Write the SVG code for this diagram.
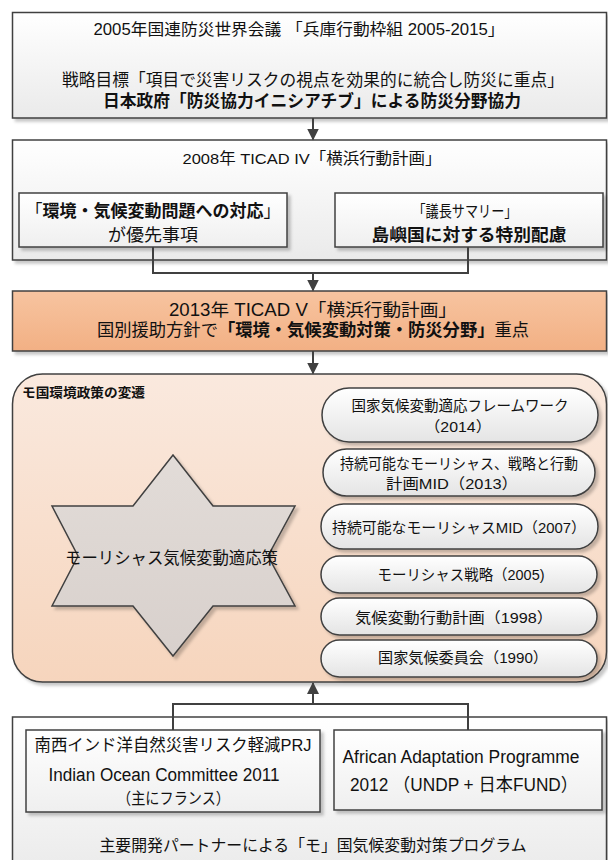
<svg xmlns="http://www.w3.org/2000/svg" width="608" height="860" viewBox="0 0 608 860">
<defs>
<linearGradient id="gBox" x1="0" y1="0" x2="0" y2="1"><stop offset="0" stop-color="#FFFFFF"/><stop offset="1" stop-color="#EAEAEA"/></linearGradient>
<linearGradient id="gSub" x1="0" y1="0" x2="0" y2="1"><stop offset="0" stop-color="#FFFFFF"/><stop offset="1" stop-color="#EFEFEF"/></linearGradient>
<linearGradient id="gOrange" x1="0" y1="0" x2="0" y2="1"><stop offset="0" stop-color="#F7C4A0"/><stop offset="1" stop-color="#F2B084"/></linearGradient>
<linearGradient id="gCont" x1="0" y1="0" x2="0" y2="1"><stop offset="0" stop-color="#FAE9DE"/><stop offset="1" stop-color="#F6D5BD"/></linearGradient>
<linearGradient id="gPill" x1="0" y1="0" x2="0" y2="1"><stop offset="0" stop-color="#FFFFFF"/><stop offset="1" stop-color="#E4E4E4"/></linearGradient>
<linearGradient id="gStar" x1="0" y1="0" x2="0" y2="1"><stop offset="0" stop-color="#E2DCD8"/><stop offset="1" stop-color="#D8D0CC"/></linearGradient>
<filter id="sh" x="-10%" y="-10%" width="125%" height="130%"><feDropShadow dx="3" dy="3" stdDeviation="1.8" flood-color="#000" flood-opacity="0.22"/></filter>
<marker id="ah" viewBox="0 0 12 12" markerWidth="12" markerHeight="12" refX="11" refY="6" orient="auto" markerUnits="userSpaceOnUse"><path d="M0,0 L12,6 L0,12 z" fill="#404040"/></marker>
</defs>
<style>
.bx{stroke:#404040;stroke-width:1.5}
.t{font-family:'Liberation Sans','Noto Sans CJK JP','Noto Sans CJK SC',sans-serif;fill:#111;text-anchor:middle}
.l{font-family:'Liberation Sans','Noto Sans CJK JP',sans-serif;fill:#111;text-anchor:middle}
.b{font-weight:bold}
.n{font-weight:normal}
.cn{fill:none;stroke:#404040;stroke-width:2}
</style>

<g id="box1">
<rect class="bx" x="12.5" y="12.5" width="594" height="105.5" fill="url(#gBox)" filter="url(#sh)"/>
<text class="l" x="299" y="35" font-size="16" textLength="411" lengthAdjust="spacingAndGlyphs">2005年国連防災世界会議 「兵庫行動枠組 2005-2015」</text>
<text class="t" x="313" y="85.5" font-size="16.5" textLength="502" lengthAdjust="spacingAndGlyphs">戦略目標「項目で災害リスクの視点を効果的に統合し防災に重点」</text>
<text class="t b" x="312" y="107" font-size="17" textLength="418" lengthAdjust="spacingAndGlyphs">日本政府「防災協力イニシアチブ」による防災分野協力</text>
</g>

<g id="box2">
<rect class="bx" x="12.5" y="140" width="594" height="120" fill="url(#gBox)" filter="url(#sh)"/>
<text class="l" x="312" y="164" font-size="15.5" textLength="259" lengthAdjust="spacingAndGlyphs">2008年 TICAD IV「横浜行動計画」</text>
</g>
<g id="box2-left">
<rect class="bx" x="19" y="193" width="268" height="54" fill="url(#gSub)" filter="url(#sh)"/>
<text class="t" x="153" y="216.5" font-size="17" textLength="255" lengthAdjust="spacingAndGlyphs"><tspan class="n">「</tspan><tspan class="b">環境・気候変動問題への対応</tspan><tspan class="n">」</tspan></text>
<text class="t" x="153" y="241" font-size="17" textLength="90" lengthAdjust="spacingAndGlyphs">が優先事項</text>
</g>
<g id="box2-right">
<rect class="bx" x="335" y="193" width="268" height="54" fill="url(#gSub)" filter="url(#sh)"/>
<text class="t" x="465" y="216.5" font-size="16" textLength="105" lengthAdjust="spacingAndGlyphs">「議長サマリー」</text>
<text class="t b" x="469" y="240.5" font-size="17" textLength="195" lengthAdjust="spacingAndGlyphs">島嶼国に対する特別配慮</text>
</g>

<g id="box3">
<rect class="bx" x="12.5" y="291" width="594" height="60" fill="url(#gOrange)" filter="url(#sh)"/>
<text class="l" x="313" y="315.5" font-size="17.5" textLength="288" lengthAdjust="spacingAndGlyphs">2013年 TICAD V「横浜行動計画」</text>
<text class="t" x="313" y="336" font-size="17.3">国別援助方針で<tspan class="b">「環境・気候変動対策・防災分野」</tspan>重点</text>
</g>

<g id="container">
<rect class="bx" x="12.5" y="374" width="594" height="308" rx="30" ry="30" fill="url(#gCont)" filter="url(#sh)"/>
<text class="t b" x="22" y="397" font-size="13" style="text-anchor:start" textLength="123" lengthAdjust="spacingAndGlyphs">モ国環境政策の変遷</text>
</g>

<g id="star">
<polygon class="bx" points="173,455 213,506 295,506 268,556 295,606 213,606 173,656 133,606 52,606 78,556 52,506 133,506" fill="url(#gStar)" filter="url(#sh)"/>
<text class="t" x="171.5" y="563.5" font-size="17" textLength="213" lengthAdjust="spacingAndGlyphs">モーリシャス気候変動適応策</text>
</g>

<g id="pill1">
<rect class="bx" x="322" y="388" width="276" height="54" rx="27" fill="url(#gPill)" filter="url(#sh)"/>
<text class="t" x="460" y="410.5" font-size="15" textLength="217" lengthAdjust="spacingAndGlyphs">国家気候変動適応フレームワーク</text>
<text class="t" x="458" y="431.5" font-size="15" textLength="67" lengthAdjust="spacingAndGlyphs">（2014）</text>
</g>
<g id="pill2">
<rect class="bx" x="323" y="449" width="272" height="47" rx="23.5" fill="url(#gPill)" filter="url(#sh)"/>
<text class="t" x="459" y="468.5" font-size="15" textLength="238" lengthAdjust="spacingAndGlyphs">持続可能なモーリシャス、戦略と行動</text>
<text class="t" x="452" y="488.5" font-size="15" textLength="132" lengthAdjust="spacingAndGlyphs">計画MID（2013）</text>
</g>
<g id="pill3">
<rect class="bx" x="321" y="504" width="277" height="45" rx="22.5" fill="url(#gPill)" filter="url(#sh)"/>
<text class="t" x="459" y="532.5" font-size="15" textLength="254" lengthAdjust="spacingAndGlyphs">持続可能なモーリシャスMID（2007）</text>
</g>
<g id="pill4">
<rect class="bx" x="321" y="556" width="276" height="37" rx="18.5" fill="url(#gPill)" filter="url(#sh)"/>
<text class="t" x="461" y="579.5" font-size="15" textLength="167" lengthAdjust="spacingAndGlyphs">モーリシャス戦略（2005)</text>
</g>
<g id="pill5">
<rect class="bx" x="321" y="598" width="276" height="37" rx="18.5" fill="url(#gPill)" filter="url(#sh)"/>
<text class="t" x="454" y="622.5" font-size="15" textLength="198" lengthAdjust="spacingAndGlyphs">気候変動行動計画（1998）</text>
</g>
<g id="pill6">
<rect class="bx" x="321" y="640" width="276" height="37" rx="18.5" fill="url(#gPill)" filter="url(#sh)"/>
<text class="t" x="463" y="662.5" font-size="15" textLength="170" lengthAdjust="spacingAndGlyphs">国家気候委員会（1990）</text>
</g>

<g id="box4">
<rect class="bx" x="12.5" y="717" width="594" height="160" fill="url(#gBox)" filter="url(#sh)"/>
<text class="t" x="313" y="851" font-size="16" textLength="427" lengthAdjust="spacingAndGlyphs">主要開発パートナーによる「モ」国気候変動対策プログラム</text>
</g>
<g id="box4-left">
<rect class="bx" x="26" y="730" width="294" height="82" fill="url(#gSub)" filter="url(#sh)"/>
<text class="l" x="173" y="751" font-size="16.5" textLength="277" lengthAdjust="spacingAndGlyphs">南西インド洋自然災害リスク軽減PRJ</text>
<text class="l" x="164" y="781" font-size="18" textLength="231" lengthAdjust="spacingAndGlyphs">Indian Ocean Committee 2011</text>
<text class="t" x="173.5" y="804" font-size="16" textLength="113" lengthAdjust="spacingAndGlyphs">（主にフランス）</text>
</g>
<g id="box4-right">
<rect class="bx" x="334" y="730" width="268" height="80" fill="url(#gSub)" filter="url(#sh)"/>
<text class="l" x="461" y="763" font-size="18" textLength="237" lengthAdjust="spacingAndGlyphs">African Adaptation Programme</text>
<text class="l" x="464" y="791" font-size="18" textLength="228" lengthAdjust="spacingAndGlyphs">2012 （UNDP + 日本FUND）</text>
</g>

<g id="connectors">
<line class="cn" x1="313" y1="118" x2="313" y2="139.5" marker-end="url(#ah)"/>
<polyline class="cn" points="153,247 153,273 468,273 468,247"/>
<line class="cn" x1="313" y1="273" x2="313" y2="290.5" marker-end="url(#ah)"/>
<line class="cn" x1="313" y1="351" x2="313" y2="373.5" marker-end="url(#ah)"/>
<polyline class="cn" points="173,730 173,704 468,704 468,730"/>
<line class="cn" x1="313" y1="704" x2="313" y2="683" marker-end="url(#ah)"/>
</g>
</svg>
